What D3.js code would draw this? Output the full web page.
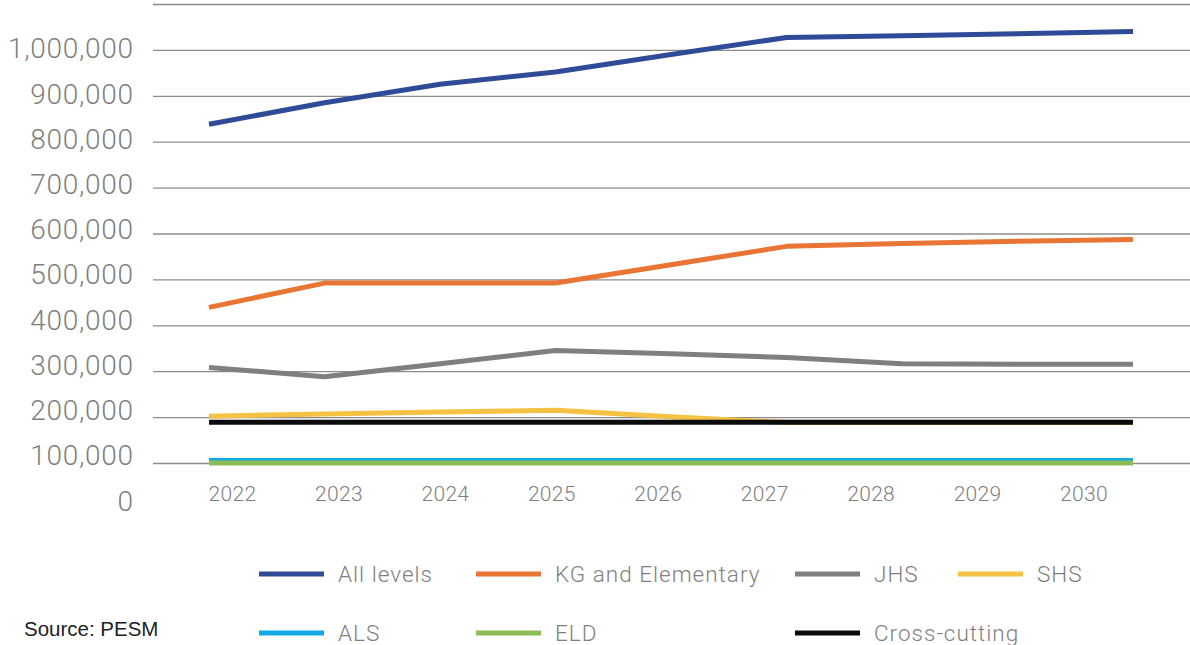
<!DOCTYPE html>
<html>
<head>
<meta charset="utf-8">
<script src="https://cdn.jsdelivr.net/npm/d3@7/dist/d3.min.js"></script>
<style>
  html, body { margin: 0; padding: 0; background: #ffffff; }
  svg { display: block; }
  text { font-family: Roboto, "Liberation Sans", sans-serif; }
</style>
</head>
<body>
<svg id="chart" width="1190" height="645"></svg>
<script>
// Enrolment projections by level, 2022–2030
const years = ["2022", "2023", "2024", "2025", "2026", "2027", "2028", "2029", "2030"];

const allLevels     = [738000, 785000, 825000, 852000, 890000, 927000, 931000, 935000, 940000];
const kgElementary  = [339000, 392000, 392000, 392000, 432000, 472000, 478000, 483000, 487000];
const jhs           = [208000, 188000, 216000, 245000, 238000, 230000, 216000, 215000, 215000];
const shs           = [102000, 107000, 111000, 115000, 101000, 88000, 88000, 88000, 88000];
const als           = [5500, 5500, 5500, 5500, 5500, 5500, 5500, 5500, 5500];
const eld           = [0, 0, 0, 0, 0, 0, 0, 0, 0];
const crossCutting  = [89000, 89000, 89000, 89000, 89000, 89000, 89000, 89000, 89000];

const seriesNames  = ["All levels", "KG and Elementary", "JHS", "SHS", "ALS", "ELD", "Cross-cutting"];
const seriesValues = [allLevels, kgElementary, jhs, shs, als, eld, crossCutting];
const seriesColors = ["#2f4a97", "#e97535", "#7f7f7f", "#f6c243", "#12aae6", "#8dbb55", "#0b0b0b"];

const yTicks = [0, 100000, 200000, 300000, 400000, 500000, 600000, 700000, 800000, 900000, 1000000];
const sourceNote = "Source: PESM";

const svg = d3.select("#chart");
const labelFont = "Roboto, 'Liberation Sans', sans-serif";

// plot scales
const x = d3.scalePoint().domain(years).range([209, 1133]);
const y = d3.scaleLinear().domain([0, 1000000]).range([463, 4]);

// label placement scales (text layer sits slightly apart from the plot grid)
const xLabel = d3.scalePoint().domain(years).range([232, 1083.5]);
const yLabel = d3.scaleLinear().domain([0, 1000000]).range([500, 47.7]);

const gridLeft = 153, gridRight = 1190;

// horizontal gridlines
const grid = svg.append("g")
  .attr("transform", `translate(${gridLeft},0)`)
  .call(d3.axisLeft(y).tickValues(yTicks).tickSize(-(gridRight - gridLeft)).tickFormat(""));
grid.select(".domain").remove();
grid.selectAll(".tick line").attr("stroke", "#8c8c8c").attr("stroke-width", 1.3);

// y labels
const yAxis = svg.append("g")
  .attr("transform", "translate(133.7,0)")
  .call(d3.axisLeft(yLabel).tickValues(yTicks).tickSize(0).tickPadding(0).tickFormat(d3.format(",")));
yAxis.select(".domain").remove();
yAxis.selectAll("text")
  .attr("fill", "#7f7f7f")
  .attr("font-size", 28)
  .attr("font-weight", 300)
  .attr("letter-spacing", 0.7)
  .attr("dy", "0.36em")
  .style("font-family", labelFont);

// x labels
const xAxis = svg.append("g")
  .attr("transform", "translate(0,493)")
  .call(d3.axisBottom(xLabel).tickSize(0).tickPadding(0));
xAxis.select(".domain").remove();
xAxis.selectAll("text")
  .attr("y", 0)
  .attr("dy", "0.36em")
  .attr("fill", "#7f7f7f")
  .attr("font-size", 21)
  .attr("font-weight", 300)
  .attr("letter-spacing", 0.3)
  .style("font-family", labelFont);

// series lines
const line = d3.line()
  .x((d, i) => x(years[i]))
  .y(d => y(d));

svg.append("g").selectAll("path")
  .data(seriesValues)
  .join("path")
  .attr("d", d => line(d))
  .attr("fill", "none")
  .attr("stroke", (d, i) => seriesColors[i])
  .attr("stroke-width", 5)
  .attr("stroke-linejoin", "round")
  .attr("stroke-linecap", "butt");

// legend
const legendCols = [259, 476, 795, 958];
const legendRows = [574, 633];
const legend = svg.append("g");
seriesNames.forEach((name, i) => {
  const cx = legendCols[i % 4];
  const cy = legendRows[Math.floor(i / 4)];
  const g = legend.append("g").attr("transform", `translate(${cx},${cy})`);
  g.append("line")
    .attr("x1", 0).attr("x2", 65)
    .attr("y1", 0).attr("y2", 0)
    .attr("stroke", seriesColors[i])
    .attr("stroke-width", 5);
  g.append("text")
    .attr("x", 79)
    .attr("y", 0)
    .attr("dy", "0.35em")
    .attr("fill", "#7f7f7f")
    .attr("font-size", 22.5)
    .attr("font-weight", 300)
    .attr("letter-spacing", 1.0)
    .text(name);
});

// source note
svg.append("text")
  .attr("x", 24)
  .attr("y", 629)
  .attr("dy", "0.36em")
  .attr("fill", "#222222")
  .attr("font-size", 20.5)
  .style("font-family", "'Liberation Sans', Arial, sans-serif")
  .text(sourceNote);
</script>
</body>
</html>
